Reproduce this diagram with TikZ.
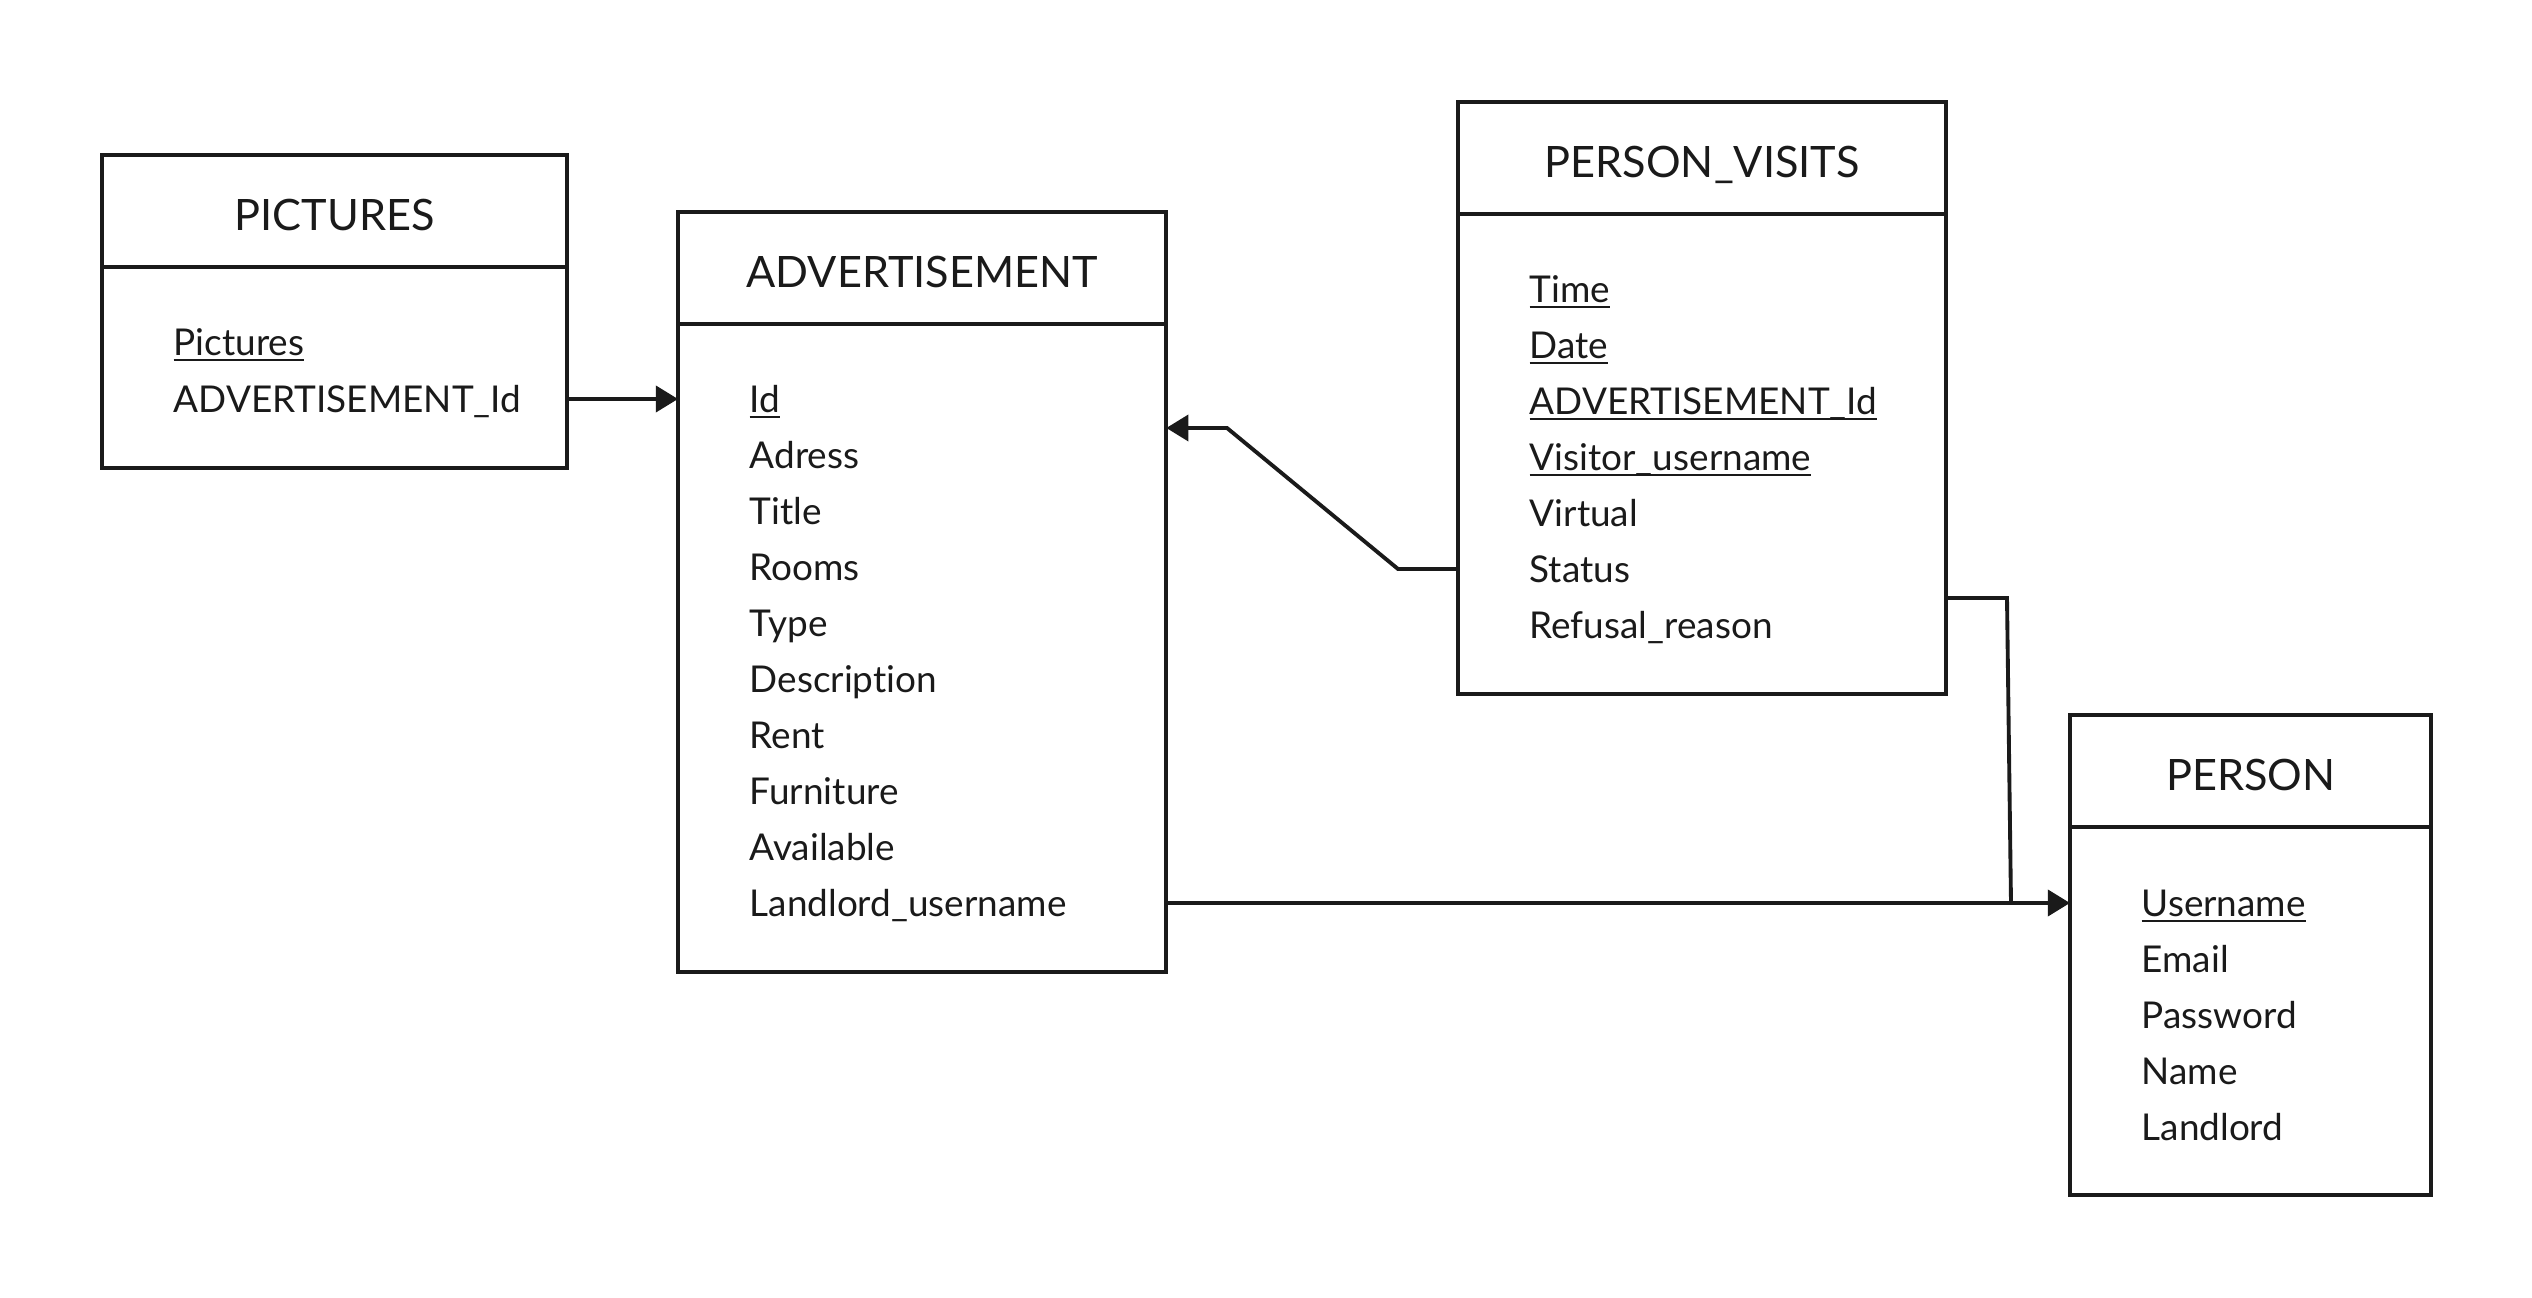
\documentclass[tikz,border=0pt]{standalone}
\usepackage{fontspec}
\setmainfont{Lato}[Ligatures=NoCommon]
\usetikzlibrary{arrows.meta}
\definecolor{ink}{HTML}{1A1A1A}
\newcommand{\pkey}[1]{\setbox0\hbox{#1}\rlap{\rule[-1.7pt]{\wd0}{0.6pt}}\box0}
\begin{document}
\begin{tikzpicture}[x=0.01cm,y=-0.01cm,
    tablehead/.style={draw=ink,text=ink,line width=1.1pt,outer sep=0pt,anchor=north west,
      minimum height=1.12cm,text height=12.8pt,text depth=2pt,font=\fontsize{12.3}{14}\selectfont},
    tablebody/.style={draw=ink,line width=1.1pt,outer sep=0pt,anchor=north},
    attr/.style={anchor=west,inner sep=0pt,text=ink,text height=9.3pt,text depth=1.8pt,
      font=\fontsize{10.5}{12}\selectfont},
    link/.style={draw=ink,line width=1.1pt},
    fk/.style={link,-{Triangle[length=6.3pt,width=7.4pt]}}]
  \useasboundingbox (0,0) rectangle (2532,1298);
  \node[tablehead,minimum width=4.65cm] (pichead) at (102,155) {PICTURES};
  \node[tablebody,minimum width=4.65cm,minimum height=2.01cm] (picbody) at (pichead.south) {};
  \node[attr] (picpictures) at (173,342) {\pkey{Pictures}};
  \node[attr] (picadvid) at (173,399) {ADVERTISEMENT\_Id};
  \node[tablehead,minimum width=4.88cm] (advhead) at (678,212) {ADVERTISEMENT};
  \node[tablebody,minimum width=4.88cm,minimum height=6.48cm] (advbody) at (advhead.south) {};
  \node[attr] (advid) at (749,399) {\pkey{Id}};
  \node[attr] (advadress) at (749,455) {Adress};
  \node[attr] (advtitle) at (749,511) {Title};
  \node[attr] (advrooms) at (749,567) {Rooms};
  \node[attr] (advtype) at (749,623) {Type};
  \node[attr] (advdescription) at (749,679) {Description};
  \node[attr] (advrent) at (749,735) {Rent};
  \node[attr] (advfurniture) at (749,791) {Furniture};
  \node[attr] (advavailable) at (749,847) {Available};
  \node[attr] (advlandlord) at (749,903) {Landlord\_username};
  \node[tablehead,minimum width=4.88cm] (pvhead) at (1458,102) {PERSON\_VISITS};
  \node[tablebody,minimum width=4.88cm,minimum height=4.8cm] (pvbody) at (pvhead.south) {};
  \node[attr] (pvtime) at (1529,289) {\pkey{Time}};
  \node[attr] (pvdate) at (1529,345) {\pkey{Date}};
  \node[attr] (pvadvid) at (1529,401) {\pkey{ADVERTISEMENT\_Id}};
  \node[attr] (pvvisitor) at (1529,457) {\pkey{Visitor\_username}};
  \node[attr] (pvvirtual) at (1529,513) {Virtual};
  \node[attr] (pvstatus) at (1529,569) {Status};
  \node[attr] (pvrefusal) at (1529,625) {Refusal\_reason};
  \node[tablehead,minimum width=3.61cm] (personhead) at (2070,715) {PERSON};
  \node[tablebody,minimum width=3.61cm,minimum height=3.68cm] (personbody) at (personhead.south) {};
  \node[attr] (personusername) at (2141,903) {\pkey{Username}};
  \node[attr] (personemail) at (2141,959) {Email};
  \node[attr] (personpassword) at (2141,1015) {Password};
  \node[attr] (personname) at (2141,1071) {Name};
  \node[attr] (personlandlord) at (2141,1127) {Landlord};
  \coordinate (bendhi) at (1227,428);
  \coordinate (bendlo) at (1398,569);
  \coordinate (visitdrop) at (2007,598);
  \coordinate (visitjoin) at (2011,903);
  \draw[fk] (picbody.east |- picadvid) -- (advbody.west |- advid);
  \draw[fk] (pvbody.west |- pvstatus) -- (bendlo) -- (bendhi) -- (advbody.east |- bendhi);
  \draw[fk] (advbody.east |- advlandlord) -- (personbody.west |- personusername);
  \draw[link] (pvbody.east |- visitdrop) -- (visitdrop) -- (visitjoin);
\end{tikzpicture}
\end{document}
